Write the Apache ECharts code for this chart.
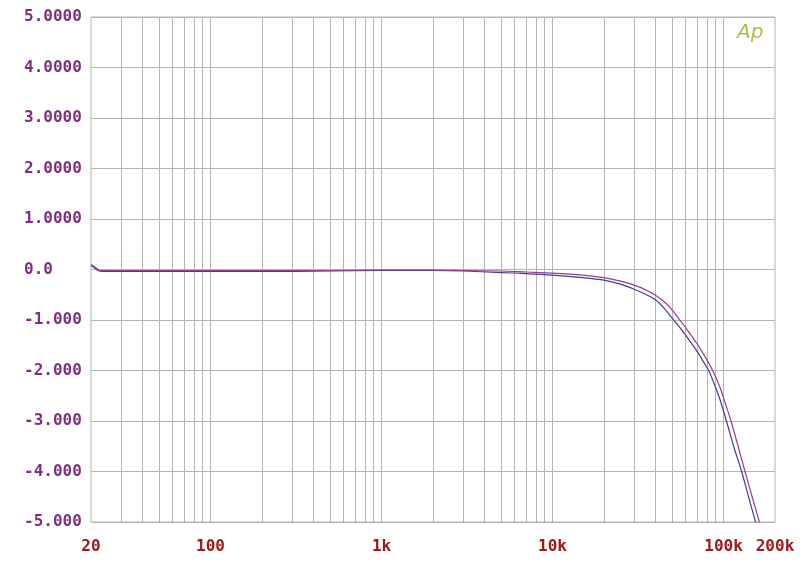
<!DOCTYPE html>
<html>
<head>
<meta charset="utf-8">
<script src="https://cdn.jsdelivr.net/npm/echarts@6/dist/echarts.min.js"></script>
<style>html,body{margin:0;padding:0;background:#fff;}#chart{width:800px;height:569px;}</style>
</head>
<body>
<div id="chart"></div>
<script>
// Purple trace: frequencies (Hz) and response (dB)
var purpleFreqs = [20, 21, 22, 23, 25, 30, 40, 50, 60, 70, 100, 200, 500, 1000, 2000, 3000, 5000, 7000, 10000, 15000, 20000, 25000, 30000, 35000, 40000, 45000, 50000, 55000, 60000, 70000, 80000, 87000, 95000, 100000, 110600, 121500, 133500, 147000, 162000, 170000];
var purpleVals = [0.10, 0.05, 0.00, -0.02, -0.02, -0.02, -0.02, -0.02, -0.02, -0.02, -0.02, -0.02, -0.02, -0.01, -0.01, -0.02, -0.03, -0.05, -0.07, -0.11, -0.16, -0.23, -0.31, -0.40, -0.51, -0.64, -0.80, -0.98, -1.15, -1.47, -1.79, -2.02, -2.32, -2.54, -3.00, -3.49, -4.00, -4.50, -5.00, -5.27];
// Blue trace: frequencies (Hz) and response (dB)
var blueFreqs = [20, 21, 22, 23, 25, 30, 40, 50, 60, 70, 100, 200, 500, 1000, 2000, 3000, 5000, 7000, 10000, 15000, 20000, 25000, 30000, 35000, 40000, 45000, 50000, 55000, 60000, 70000, 80000, 82000, 90000, 95000, 104000, 115000, 127700, 140000, 154000, 165000];
var blueVals = [0.08, 0.03, -0.02, -0.04, -0.04, -0.04, -0.04, -0.04, -0.04, -0.04, -0.04, -0.04, -0.03, -0.02, -0.02, -0.03, -0.06, -0.08, -0.11, -0.16, -0.21, -0.29, -0.39, -0.49, -0.60, -0.77, -0.96, -1.13, -1.30, -1.62, -1.94, -2.00, -2.34, -2.56, -3.00, -3.52, -4.00, -4.50, -5.00, -5.36];
// Vertical grid frequencies
var gridFreqs = [30, 40, 50, 60, 70, 80, 90, 100, 200, 300, 400, 500, 600, 700, 800, 900, 1000, 2000, 3000, 4000, 5000, 6000, 7000, 8000, 9000, 10000, 20000, 30000, 40000, 50000, 60000, 70000, 80000, 90000, 100000];
// Tick labels
var xTickLabels = {20: '20', 100: '100', 1000: '1k', 10000: '10k', 100000: '100k', 200000: '200k'};
var yTickLabels = {'5': '5.0000', '4': '4.0000', '3': '3.0000', '2': '2.0000', '1': '1.0000', '0': '0.0', '-1': '-1.000', '-2': '-2.000', '-3': '-3.000', '-4': '-4.000', '-5': '-5.000'};

function pairs(xs, ys) { return xs.map(function (x, i) { return [x, ys[i]]; }); }

var gridColor = '#b4b4b4';
var chart = echarts.init(document.getElementById('chart'), null, {renderer: 'canvas'});
chart.setOption({
  animation: false,
  backgroundColor: '#ffffff',
  grid: {left: 91, right: 25, top: 17, bottom: 47, show: true, borderColor: gridColor, borderWidth: 1},
  xAxis: {
    type: 'log', logBase: 10, min: 20, max: 200000,
    axisLine: {show: false}, axisTick: {show: false},
    splitLine: {show: false},
    axisLabel: {
      showMinLabel: true, showMaxLabel: true,
      color: '#a01818', fontFamily: 'DejaVu Sans Mono', fontSize: 16, fontWeight: 'bold', margin: 17,
      formatter: function (v) { var r = Math.round(v); return xTickLabels[r] !== undefined ? xTickLabels[r] : ''; }
    }
  },
  yAxis: {
    type: 'value', min: -5, max: 5, interval: 1,
    axisLine: {show: false}, axisTick: {show: false},
    splitLine: {show: true, lineStyle: {color: gridColor, width: 1}},
    axisLabel: {
      color: '#7f2f7f', fontFamily: 'DejaVu Sans Mono', fontSize: 16, fontWeight: 'bold', margin: 67, align: 'left',
      formatter: function (v) { var k = String(Math.round(v)); return yTickLabels[k] !== undefined ? yTickLabels[k] : ''; }
    }
  },
  series: [
    {
      type: 'line', name: 'grid', data: [], silent: true, z: 1,
      markLine: {
        silent: true, symbol: 'none', label: {show: false}, z: 1,
        lineStyle: {color: gridColor, width: 1, type: 'solid'},
        data: gridFreqs.map(function (f) { return {xAxis: f}; })
      }
    },
    {
      type: 'line', name: 'blue', data: pairs(blueFreqs, blueVals), showSymbol: false, smooth: 0.25, z: 5,
      lineStyle: {color: '#3f3f9c', width: 1.2}, clip: true
    },
    {
      type: 'line', name: 'purple', data: pairs(purpleFreqs, purpleVals), showSymbol: false, smooth: 0.25, z: 6,
      lineStyle: {color: '#9a3a8c', width: 1.2}, clip: true
    }
  ],
  graphic: [{
    type: 'text', left: 737, top: 23,
    style: {text: 'Ap', fill: '#b8b84e', font: 'italic 20px "DejaVu Sans"'}
  }]
});
</script>
</body>
</html>
